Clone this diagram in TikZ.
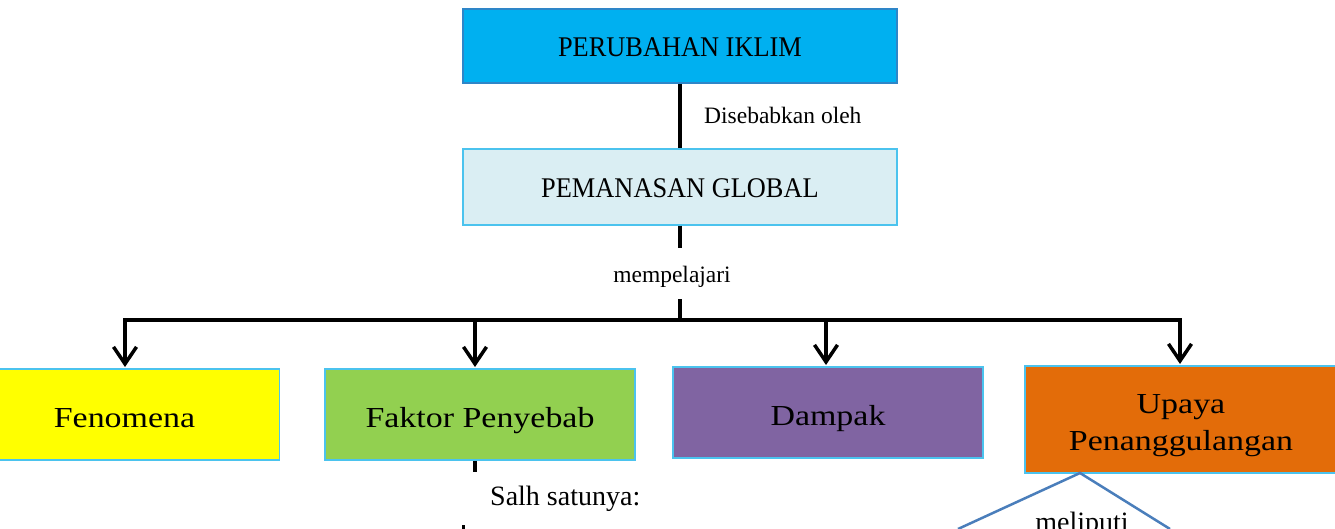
\documentclass[tikz,border=0pt]{standalone}
\usepackage{fontspec}
\setmainfont{Liberation Serif}
\newfontfamily\lowboxfont[FakeStretch=1.17]{Liberation Serif}
\newfontfamily\topboxfont[FakeStretch=0.925]{Liberation Serif}
\usetikzlibrary{arrows.meta}
\definecolor{topfill}{HTML}{00B0F0}
\definecolor{topdraw}{HTML}{2E86C8}
\definecolor{lightfill}{HTML}{DAEEF3}
\definecolor{boxdraw}{HTML}{4BC3EE}
\definecolor{yel}{HTML}{FFFF00}
\definecolor{grn}{HTML}{92D050}
\definecolor{purp}{HTML}{8064A2}
\definecolor{orng}{HTML}{E36C09}
\definecolor{bline}{HTML}{4A7EBB}
\tikzset{
  box/.style={rectangle, draw=boxdraw, line width=1.5pt, inner sep=0pt, align=center, text=black},
  topbox/.style={box, font=\topboxfont\fontsize{28.5}{32}\selectfont, minimum width=434pt, text height=22pt, text depth=0pt},
  lowbox/.style={box, font=\lowboxfont\fontsize{29}{37}\selectfont, minimum width=310pt, text height=25pt, text depth=0pt},
  boxtext/.style={inner sep=0pt, font=\lowboxfont\fontsize{29}{37}\selectfont},
  conn/.style={line width=4pt, black},
  arr/.style={conn, -{Straight Barb[length=17pt,width=23pt,line width=3.5pt]}},
  lab/.style={inner sep=0pt, font=\fontsize{23.5}{27}\selectfont},
  lab2/.style={inner sep=0pt, font=\fontsize{28}{32}\selectfont},
}
\begin{document}
\begin{tikzpicture}[x=1pt,y=-1pt]
\clip (0,0) rectangle (1335,529);
\fill[white] (0,0) rectangle (1335,529);
% top boxes
\node[topbox, fill=topfill, draw=topdraw, minimum height=74pt] (iklim) at (680,46) {PERUBAHAN IKLIM};
\node[topbox, fill=lightfill, minimum height=76pt] (global) at (680,187) {PEMANASAN GLOBAL};
% lower boxes
\node[lowbox, fill=yel, minimum height=91pt] (fen) at (124.5,414.5) {Fenomena};
\node[lowbox, fill=grn, minimum height=91pt] (fak) at (480,414.5) {Faktor Penyebab};
\node[lowbox, fill=purp, minimum height=91pt] (dam) at (828,412.5) {Dampak};
\node[lowbox, fill=orng, minimum width=314pt, minimum height=107pt] (upa) at (1182,419.5) {};
\node[boxtext, anchor=base] (upa1) at (1181,413) {Upaya};
\node[boxtext, anchor=base] (upa2) at (1181,450) {Penanggulangan};
% connector top
\draw[conn] (iklim.south) -- (global.north);
\node[lab, anchor=base west] (dis) at (704,124) {Disebabkan oleh};
% mempelajari
\node[lab, anchor=base] (mem) at (672,282) {mempelajari};
\coordinate (m1) at (680,248);
\coordinate (m2) at (680,299);
\coordinate (hub) at (680,320);
\coordinate (hl) at (125,320);
\coordinate (hr) at (1180,320);
\draw[conn] (global.south) -- (m1);
\draw[conn] (m2) -- (hub);
\draw[conn, line cap=rect] (hl) -- (hr);
\draw[arr] (hl) -- (125,367);
\draw[arr] (475,320) -- (475,367);
\draw[arr] (826,320) -- (826,365);
\draw[arr] (hr) -- (1180,364);
% below faktor
\coordinate (f1) at (475,472);
\draw[conn] (fak.south -| f1) -- (f1);
\node[lab2, anchor=base west] (salh) at (490,505) {Salh satunya:};
\coordinate (s1) at (463.5,525);
\coordinate (s2) at (463.5,530);
\draw[line width=3pt] (s1) -- (s2);
% below upaya
\coordinate (apex) at (1080,473);
\coordinate (ul) at (958,529);
\coordinate (ur) at (1170,529);
\draw[bline, line width=2.5pt] (ul) -- (apex) -- (ur);
\node[lab2, anchor=base] (mel) at (1082,531) {meliputi};
\end{tikzpicture}
\end{document}
